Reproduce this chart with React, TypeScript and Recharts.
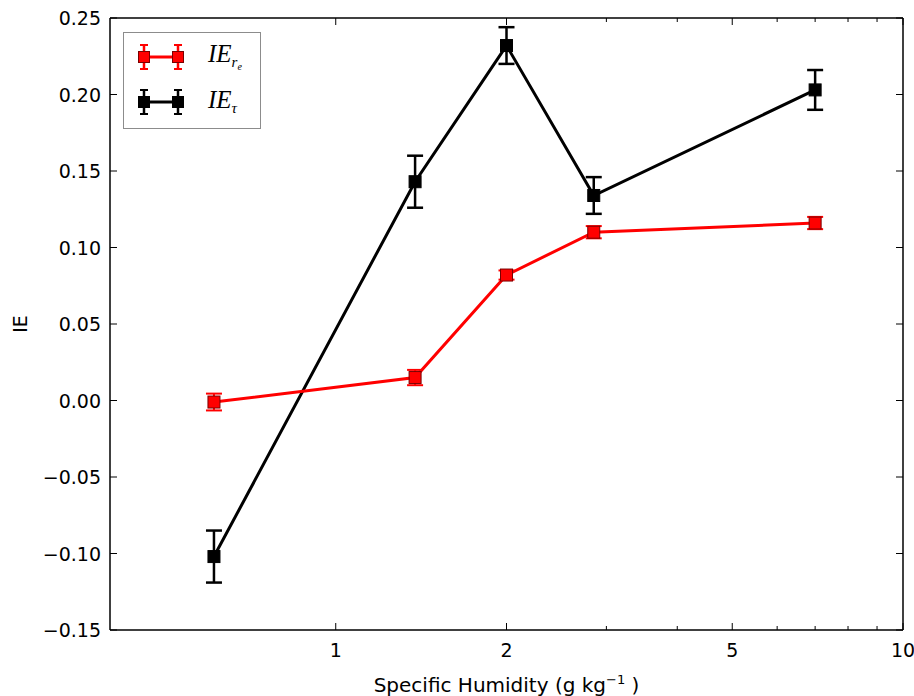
import React from "react";
import {
  LineChart, Line, XAxis, YAxis, ErrorBar,
} from "recharts";

// specific humidity (g/kg) bins and the two interaction-effect series
const humidity = [0.61, 1.38, 2.0, 2.85, 7.0];
const ieRe = [-0.001, 0.015, 0.082, 0.11, 0.116];
const ieReErr = [0.0055, 0.005, 0.003, 0.004, 0.004];
const ieTau = [-0.102, 0.143, 0.232, 0.134, 0.203];
const ieTauErr = [0.017, 0.017, 0.012, 0.012, 0.013];

const xTicks = [1, 2, 3, 4, 5, 6, 7, 8, 9, 10];
const xLabelled = [1, 2, 5, 10];
const yTicks = [-0.15, -0.1, -0.05, 0, 0.05, 0.1, 0.15, 0.2, 0.25];

const data = humidity.map((h, i) => ({
  h,
  re: ieRe[i],
  reErr: ieReErr[i],
  tau: ieTau[i],
  tauErr: ieTauErr[i],
}));

const FONT = "DejaVu Sans";
const fmtY = (v: number) => v.toFixed(2).replace("-", "\u2212");

function BottomTick(props: any) {
  const { x, y, payload } = props;
  const major = xLabelled.includes(payload.value);
  return (
    <g>
      <line x1={x} y1={y} x2={x} y2={y - (major ? 7 : 4)} stroke="#000" strokeWidth={1} />
      {major && (
        <text x={x} y={y + 27} textAnchor="middle" fontFamily={FONT} fontSize={19} fill="#000">
          {payload.value}
        </text>
      )}
    </g>
  );
}

function TopTick(props: any) {
  const { x, y, payload } = props;
  const major = xLabelled.includes(payload.value);
  return <line x1={x} y1={y} x2={x} y2={y + (major ? 7 : 4)} stroke="#000" strokeWidth={1} />;
}

function LeftTick(props: any) {
  const { x, y, payload } = props;
  return (
    <g>
      <line x1={x} y1={y} x2={x + 7} y2={y} stroke="#000" strokeWidth={1} />
      <text x={x - 9} y={y + 7} textAnchor="end" fontFamily={FONT} fontSize={19} fill="#000">
        {fmtY(payload.value)}
      </text>
    </g>
  );
}

function RightTick(props: any) {
  const { x, y } = props;
  return <line x1={x} y1={y} x2={x - 7} y2={y} stroke="#000" strokeWidth={1} />;
}

function Marker(props: any) {
  const { cx, cy, fill, stroke } = props;
  if (cx == null || cy == null) return null;
  return <rect x={cx - 6} y={cy - 6} width={12} height={12} fill={fill} stroke={stroke} strokeWidth={1} />;
}

function LegendSample({ color, edge }: { color: string; edge: string }) {
  return (
    <svg width={50} height={30} style={{ display: "block" }}>
      <line x1={8} y1={15} x2={42} y2={15} stroke={color} strokeWidth={3} />
      {[8, 42].map((x) => (
        <g key={x}>
          <line x1={x} y1={3} x2={x} y2={27} stroke={color} strokeWidth={2.5} />
          <line x1={x - 4} y1={3} x2={x + 4} y2={3} stroke={color} strokeWidth={2} />
          <line x1={x - 4} y1={27} x2={x + 4} y2={27} stroke={color} strokeWidth={2} />
          <rect x={x - 5.5} y={9.5} width={11} height={11} fill={color} stroke={edge} strokeWidth={1} />
        </g>
      ))}
    </svg>
  );
}

function LegendBox() {
  const rows = [
    { color: "#ff0000", edge: "#7a0000", sub: "r", subsub: "e" },
    { color: "#000000", edge: "#000000", sub: "\u03c4", subsub: "" },
  ];
  return (
    <div
      style={{
        position: "absolute",
        left: 123,
        top: 32,
        width: 138,
        height: 97,
        border: "1.5px solid #8c8c8c",
        background: "#fff",
        boxSizing: "border-box",
        padding: "1px 0 0 12px",
      }}
    >
      {rows.map((r, i) => (
        <div key={i} style={{ display: "flex", alignItems: "center", height: 45 }}>
          <LegendSample color={r.color} edge={r.edge} />
          <span
            style={{
              marginLeft: 22,
              fontFamily: "Liberation Serif",
              fontStyle: "italic",
              fontSize: 25,
              color: "#000",
              lineHeight: 1,
            }}
          >
            IE
            <sub style={{ fontSize: 15, verticalAlign: -5 }}>
              {r.sub}
              {r.subsub && <sub style={{ fontSize: 10, verticalAlign: -3 }}>{r.subsub}</sub>}
            </sub>
          </span>
        </div>
      ))}
    </div>
  );
}

export default function App() {
  return (
    <div style={{ position: "absolute", left: 0, top: 0, width: 914, height: 696, background: "#fff" }}>
      <LineChart width={914} height={696} data={data} margin={{ top: 17, right: 10, bottom: 0, left: 0 }}>
        <XAxis
          dataKey="h"
          type="number"
          scale="log"
          domain={[0.4, 10]}
          ticks={xTicks}
          allowDataOverflow
          height={66}
          axisLine={{ stroke: "#000", strokeWidth: 1.5 }}
          tickLine={false}
          tickSize={0}
          tickMargin={0}
          interval={0}
          tick={<BottomTick />}
          label={{
            content: (p: any) => {
              const vb = p.viewBox;
              return (
                <text x={vb.x + vb.width / 2} y={vb.y + 62} textAnchor="middle" fontFamily={FONT} fontSize={20} fill="#000">
                  Specific Humidity (g kg
                  <tspan dy={-8} fontSize={13}>{"\u22121"}</tspan>
                  <tspan dy={8}>{"\u00a0)"}</tspan>
                </text>
              );
            },
          }}
        />
        <XAxis
          xAxisId="top"
          orientation="top"
          dataKey="h"
          type="number"
          scale="log"
          domain={[0.4, 10]}
          ticks={xTicks}
          allowDataOverflow
          height={1}
          axisLine={{ stroke: "#000", strokeWidth: 1.5 }}
          tickLine={false}
          tickSize={0}
          tickMargin={0}
          interval={0}
          tick={<TopTick />}
        />
        <YAxis
          type="number"
          domain={[-0.15, 0.25]}
          ticks={yTicks}
          allowDataOverflow
          width={110}
          axisLine={{ stroke: "#000", strokeWidth: 1.5 }}
          tickLine={false}
          tickSize={0}
          tickMargin={0}
          interval={0}
          tick={<LeftTick />}
          label={{
            content: (p: any) => {
              const vb = p.viewBox;
              const cy = vb.y + vb.height / 2;
              return (
                <text x={27} y={cy} transform={`rotate(-90 27 ${cy})`} textAnchor="middle" fontFamily={FONT} fontSize={19} fill="#000">
                  IE
                </text>
              );
            },
          }}
        />
        <YAxis
          yAxisId="right"
          orientation="right"
          type="number"
          domain={[-0.15, 0.25]}
          ticks={yTicks}
          allowDataOverflow
          width={1}
          axisLine={{ stroke: "#000", strokeWidth: 1.5 }}
          tickLine={false}
          tickSize={0}
          tickMargin={0}
          interval={0}
          tick={<RightTick />}
        />
        <Line
          dataKey="tau"
          stroke="#000"
          strokeWidth={3}
          isAnimationActive={false}
          dot={<Marker fill="#000" stroke="#000" />}
          activeDot={false}
        >
          <ErrorBar dataKey="tauErr" direction="y" width={8} stroke="#000" strokeWidth={2.5} />
        </Line>
        <Line
          dataKey="re"
          stroke="#ff0000"
          strokeWidth={3}
          isAnimationActive={false}
          dot={<Marker fill="#ff0000" stroke="#7a0000" />}
          activeDot={false}
        >
          <ErrorBar dataKey="reErr" direction="y" width={8} stroke="#ff0000" strokeWidth={2} />
        </Line>
      </LineChart>
      <LegendBox />
    </div>
  );
}
